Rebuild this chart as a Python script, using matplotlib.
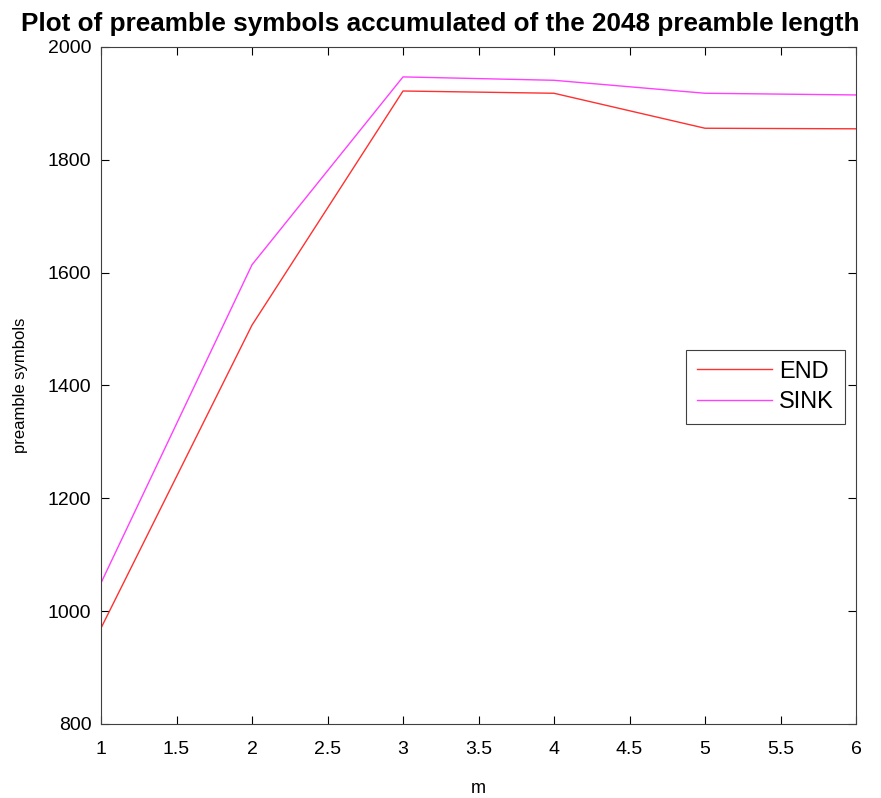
import numpy as np
import matplotlib.pyplot as plt

m = [1, 2, 3, 4, 5, 6]
end_syms = [970, 1507, 1922, 1918, 1856, 1855]
sink_syms = [1050, 1614, 1947, 1941, 1918, 1915]

plt.rcParams['font.family'] = ['Liberation Sans', 'DejaVu Sans']

fig = plt.figure(figsize=(8.81, 7.98), dpi=100)
ax = fig.add_axes([101/881, 1 - 724/798, (856-101)/881, (724-47)/798])

ax.plot(m, end_syms, color='#ff3030', lw=1.0, label='END')
ax.plot(m, sink_syms, color='#ff40ff', lw=1.0, label='SINK')

ax.set_xlim(1, 6)
ax.set_ylim(800, 2000)
ax.set_xticks(np.arange(1, 6.01, 0.5))
ax.set_xticklabels(['1', '1.5', '2', '2.5', '3', '3.5', '4', '4.5', '5', '5.5', '6'])
ax.set_yticks(np.arange(800, 2001, 200))
ax.tick_params(direction='in', top=True, right=True, labelsize=14, length=6)
ax.tick_params(axis='x', pad=12)
ax.tick_params(axis='y', pad=7)
for s in ax.spines.values():
    s.set_color('#404040')
    s.set_linewidth(0.8)

ax.set_xlabel('m', fontsize=13, labelpad=16)
ax.set_ylabel('preamble symbols', fontsize=12, labelpad=14)
fig.text(0.5, 1 - 24/798, 'Plot of preamble symbols accumulated of the 2048 preamble length',
         ha='center', va='center', fontsize=18.8, fontweight='bold',
         family=['Liberation Sans Narrow', 'Liberation Sans', 'DejaVu Sans'])

leg = ax.legend(loc='upper left', bbox_to_anchor=((686-101)/755, (724-350)/677),
                fontsize=17, fancybox=False, framealpha=1, edgecolor='#404040',
                handlelength=3.2, borderpad=0.45, labelspacing=0.35, handletextpad=0.3,
                borderaxespad=0)
leg.get_frame().set_linewidth(0.8)

fig.savefig('out.png', dpi=100)
